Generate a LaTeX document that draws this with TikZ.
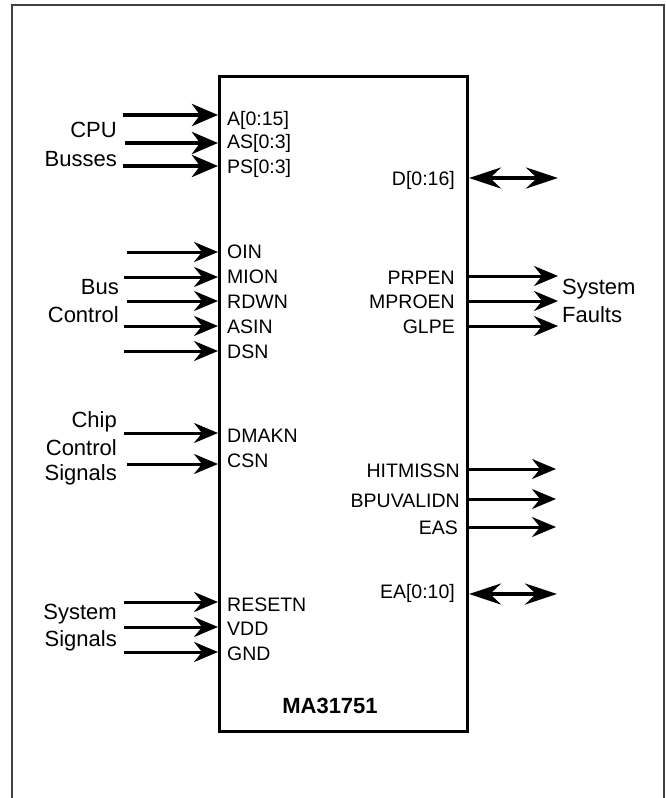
\documentclass[tikz,border=0pt]{standalone}
\usepackage{fontspec}
\setmainfont{Liberation Sans}
\usetikzlibrary{arrows.meta}
\begin{document}
\begin{tikzpicture}[x=1pt,y=-1pt,
  pinlbl/.style={font=\fontsize{19.5}{22}\selectfont, inner sep=0pt},
  grplbl/.style={font=\fontsize{22}{26}\selectfont, inner sep=0pt},
  sigarrow/.style={line width=3pt, -{Stealth[length=24pt,width=20pt,inset=8pt]}},
  busarrow/.style={line width=4.5pt, -{Stealth[length=26pt,width=22pt,inset=8pt]}},
  bidir/.style={line width=4pt, {Stealth[length=32pt,width=21pt,inset=11pt]}-{Stealth[length=32pt,width=21pt,inset=11pt]}},
]
\useasboundingbox (0,0) rectangle (666,798);
% outer frame
\draw[line width=2pt, gray!50!black] (12,798) -- (12,5) -- (664,5) -- (664,798);
% chip
\node[draw, line width=3pt, minimum width=248pt, minimum height=655pt, anchor=north west, inner sep=0pt] (chip) at (218,75) {};
\node[font=\bfseries\fontsize{22}{26}\selectfont, inner sep=0pt, anchor=base] (name) at (330,713) {MA31751};

% left pins: name / label / baseline / arrow y / start x / style
\foreach \n/\t/\b/\y/\s/\st in {
  a/{A[0:15]}/125/115/123/busarrow,
  as/{AS[0:3]}/148/143/125/busarrow,
  ps/{PS[0:3]}/173/166/123/busarrow,
  oin/OIN/258/252/127/sigarrow,
  mion/MION/283/277/124/sigarrow,
  rdwn/RDWN/308/301/127/sigarrow,
  asin/ASIN/333/326/124/sigarrow,
  dsn/DSN/358/351/124/sigarrow,
  dmakn/DMAKN/442/433/124/sigarrow,
  csn/CSN/467/464/127/sigarrow,
  resetn/RESETN/611/602/124/sigarrow,
  vdd/VDD/635/627/124/sigarrow,
  gnd/GND/660/652/124/sigarrow}
{
  \node[pinlbl, anchor=base west] (l\n) at (227,\b) {\t};
  \coordinate (s\n) at (\s,\y);
  \draw[\st] (s\n) -- (s\n -| chip.west);
}

% right outputs
\foreach \n/\t/\b/\y/\rx/\ex in {
  prpen/PRPEN/284/276/455/558,
  mproen/MPROEN/308/301/455/558,
  glpe/GLPE/333/326/455/558,
  hit/HITMISSN/477/469/460/556,
  bpu/BPUVALIDN/507/499/460/556,
  eas/EAS/534/527/458/556}
{
  \node[pinlbl, anchor=base east] (l\n) at (\rx,\b) {\t};
  \coordinate (e\n) at (\ex,\y);
  \draw[sigarrow] (e\n -| chip.east) -- (e\n);
}

% bidirectional
\node[pinlbl, anchor=base east] (ld) at (455,185) {D[0:16]};
\coordinate (ed) at (558,178);
\coordinate (bd) at (469,178);
\draw[bidir] (bd) -- (ed);
\node[pinlbl, anchor=base east] (lea) at (455,598) {EA[0:10]};
\coordinate (eea) at (557,594);
\coordinate (bea) at (469,594);
\draw[bidir] (bea) -- (eea);

% group labels
\node[grplbl, anchor=base east] (g1) at (117,137) {CPU};
\node[grplbl, anchor=base east] (g2) at (117,166) {Busses};
\node[grplbl, anchor=base east] (g3) at (119,294) {Bus};
\node[grplbl, anchor=base east] (g4) at (119,322) {Control};
\node[grplbl, anchor=base east] (g5) at (117,427) {Chip};
\node[grplbl, anchor=base east] (g6) at (117,455) {Control};
\node[grplbl, anchor=base east] (g7) at (117,480) {Signals};
\node[grplbl, anchor=base east] (g8) at (117,619) {System};
\node[grplbl, anchor=base east] (g9) at (117,646) {Signals};
\node[grplbl, anchor=base west] (g10) at (562,294) {System};
\node[grplbl, anchor=base west] (g11) at (562,322) {Faults};
\end{tikzpicture}
\end{document}
